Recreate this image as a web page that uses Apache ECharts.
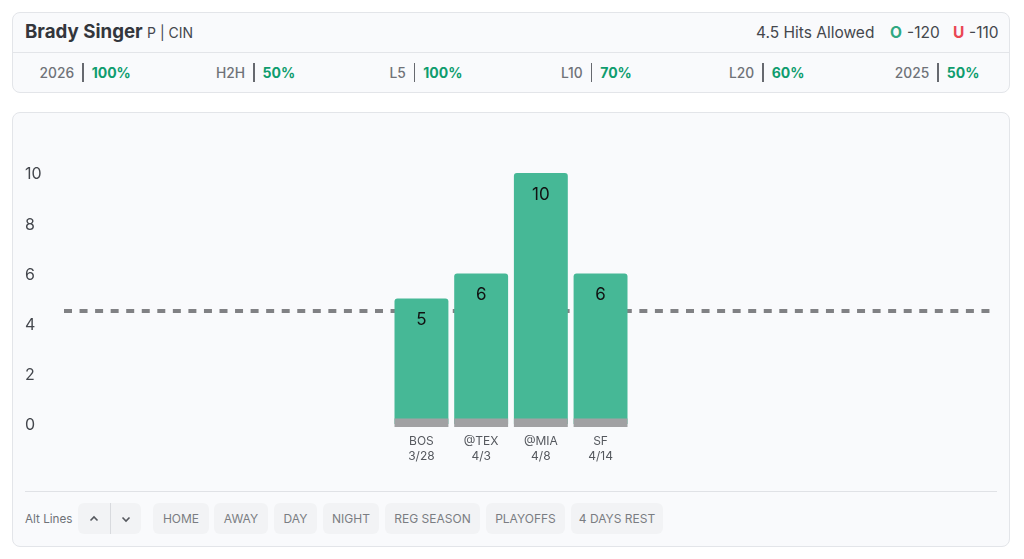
<!DOCTYPE html>
<html>
<head>
<meta charset="utf-8">
<script src="https://cdn.jsdelivr.net/npm/echarts@6/dist/echarts.min.js"></script>
<style>
  html, body { margin: 0; padding: 0; background: #fff; width: 1024px; height: 559px; overflow: hidden; font-family: Inter, "Noto Sans", sans-serif; }
  .card { position: absolute; box-sizing: border-box; left: 12px; width: 998px; background: #f9fafc; border: 1.5px solid #e3e5e9; border-radius: 8px; }
  #head { top: 12px; height: 81px; }
  #box { top: 112px; height: 435px; }
  .abs { position: absolute; white-space: nowrap; }
  #name { left: 25px; top: 20px; font-size: 18.7px; line-height: 24px; font-weight: 700; color: #33363c; }
  #pos { left: 147px; top: 23px; font-size: 14px; line-height: 20px; color: #44474d; }
  #line1 { left: 13px; width: 996px; top: 52px; height: 1px; background: #e3e5e9; }
  .mk { top: 23px; font-size: 15.5px; line-height: 20px; color: #44474d; }
  .mk b { font-weight: 700; }
  #stats { left: 0; top: 60px; display: flex; }
  .stat { width: 170.4px; display: flex; justify-content: center; align-items: center; height: 25px; font-size: 13.8px; }
  .stat .k { color: #6f7278; font-weight: 500; }
  .stat .s { width: 1.5px; height: 19px; background: #66696f; margin: 0 8px; }
  .stat .v { color: #0f9d6e; font-weight: 700; font-size: 14px; }
  #chart { position: absolute; left: 0; top: 0; width: 1024px; height: 490px; }
  #line2 { left: 25px; width: 972px; top: 491px; height: 1px; background: #e0e2e6; }
  #alt { left: 25px; top: 511px; font-size: 11.7px; line-height: 17px; color: #6f7278; }
  .btn { position: absolute; top: 503px; height: 31px; line-height: 32px; text-align: center; box-sizing: border-box; background: #f2f3f5; border-radius: 6px; color: #7a7d82; font-size: 12px; white-space: nowrap; }
  .btn svg { display: block; margin: 12px auto 0; }
  #sep { left: 109.5px; top: 503px; width: 1px; height: 31px; background: #d8dade; }
</style>
</head>
<body>
<div class="card" id="head"></div>
<div class="card" id="box"></div>
<div class="abs" id="name">Brady Singer</div>
<div class="abs" id="pos">P | CIN</div>
<div class="abs" id="line1"></div>
<div class="abs mk" style="left:756px">4.5 Hits Allowed</div>
<div class="abs mk" style="left:890px"><b style="color:#2fa882">O</b></div>
<div class="abs mk" style="left:907px">-120</div>
<div class="abs mk" style="left:953px"><b style="color:#ea4653">U</b></div>
<div class="abs mk" style="left:969px">-110</div>
<div class="abs" id="stats"></div>
<div id="chart"></div>
<div class="abs" id="line2"></div>
<div class="abs" id="alt">Alt Lines</div>
<div id="buttons"></div>
<script>
const statLabels = ['2026', 'H2H', 'L5', 'L10', 'L20', '2025'];
const statValues = ['100%', '50%', '100%', '70%', '60%', '50%'];

const opponents = ['BOS', '@TEX', '@MIA', 'SF'];
const dates = ['3/28', '4/3', '4/8', '4/14'];
const hits = [5, 6, 10, 6];
const capTop = [0.22, 0.22, 0.22, 0.22];
const capBottom = [-0.12, -0.12, -0.12, -0.12];
const propLine = 4.5;
const yTicks = [0, 2, 4, 6, 8, 10];

const filters = ['HOME', 'AWAY', 'DAY', 'NIGHT', 'REG SEASON', 'PLAYOFFS', '4 DAYS REST'];
const filterLeft = [153, 214, 274, 323, 385, 486, 571];
const filterWidth = [56, 54, 43, 56, 95, 79, 92];

document.getElementById('stats').innerHTML = statLabels.map((k, i) =>
  `<div class="stat"><span class="k">${k}</span><span class="s"></span><span class="v">${statValues[i]}</span></div>`
).join('');

const chevron = d => `<svg width="10" height="8" viewBox="0 0 10 8"><path d="${d}" fill="none" stroke="#55585e" stroke-width="1.6"/></svg>`;
let btnHtml = `<div class="btn" style="left:78px;width:63px"></div><div class="abs" id="sep"></div>`;
btnHtml += `<div class="btn" style="left:78px;width:32px;background:none">${chevron('M1.5 5.5 L5 2 L8.5 5.5')}</div>`;
btnHtml += `<div class="btn" style="left:110px;width:31px;background:none">${chevron('M1.5 2.5 L5 6 L8.5 2.5')}</div>`;
filters.forEach((f, i) => {
  btnHtml += `<div class="btn" style="left:${filterLeft[i]}px;width:${filterWidth[i]}px">${f}</div>`;
});
document.getElementById('buttons').innerHTML = btnHtml;

const chart = echarts.init(document.getElementById('chart'), null, { renderer: 'canvas' });

// bars sit in a narrow grid, the dashed line runs through a wide one
const barOpts = { type: 'bar', xAxisIndex: 0, yAxisIndex: 0, barWidth: 53.9, barGap: '-100%', silent: true, z: 3 };

chart.setOption({
  animation: false,
  backgroundColor: 'transparent',
  textStyle: { fontFamily: 'Inter, "Noto Sans", sans-serif' },
  grid: [
    { left: 391.6, width: 238.8, top: 173, height: 254, outerBoundsMode: 'none' },
    { left: 64, right: 34, top: 173, height: 301.2, outerBoundsMode: 'none' }
  ],
  xAxis: [
    {
      type: 'category',
      gridIndex: 0,
      data: opponents.map((o, i) => o + '\n' + dates[i]),
      axisLine: { show: false },
      axisTick: { show: false },
      axisLabel: { interval: 0, margin: 7, fontSize: 12, lineHeight: 15, color: '#55585e' }
    },
    { type: 'value', gridIndex: 1, min: 0, max: 1, show: false }
  ],
  yAxis: [
    { type: 'value', gridIndex: 0, min: capBottom[0], max: 10, show: false },
    {
      type: 'value',
      gridIndex: 1,
      min: -2,
      max: 10,
      interval: 2,
      splitLine: { show: false },
      axisLine: { show: false },
      axisTick: { show: false },
      axisLabel: {
        margin: 39,
        align: 'left',
        formatter: v => (yTicks.includes(v) ? '{t|' + v + '}' : ''),
        rich: { t: { fontSize: 16, color: '#44474d', padding: [3, 0, 0, 0] } }
      }
    }
  ],
  series: [
    {
      type: 'line',
      xAxisIndex: 1,
      yAxisIndex: 1,
      data: [[0, propLine], [1, propLine]],
      symbol: 'none',
      silent: true,
      z: 1,
      lineStyle: { color: '#808184', width: 4, type: [8, 7.55] }
    },
    {
      ...barOpts,
      data: hits,
      itemStyle: { color: '#46b896', borderRadius: [3, 3, 0, 0] },
      label: { show: true, position: 'insideTop', distance: 13, fontSize: 17, color: '#111', formatter: p => String(p.value) }
    },
    { ...barOpts, data: capTop, itemStyle: { color: '#a1a1a3' } },
    { ...barOpts, data: capBottom, itemStyle: { color: '#a1a1a3' } }
  ]
});
</script>
</body>
</html>
